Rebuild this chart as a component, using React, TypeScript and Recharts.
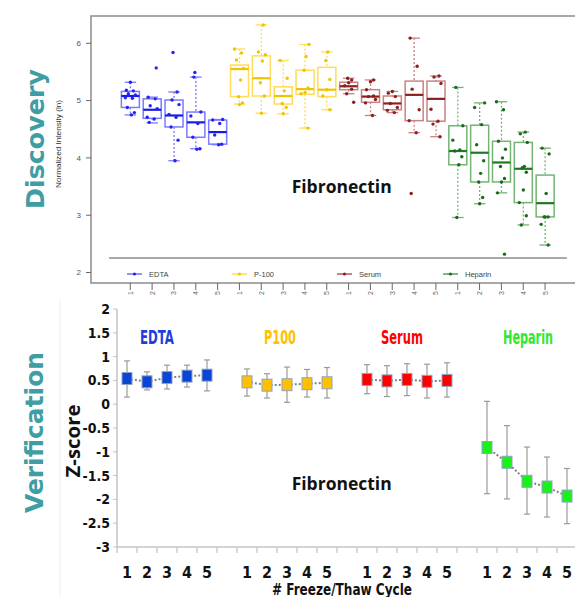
import React from 'react';
import { ComposedChart, Bar, XAxis, YAxis, ReferenceArea, ReferenceLine, Line, ErrorBar } from 'recharts';

// ---------- Discovery (top) data ----------
const topGroups = ['EDTA', 'P-100', 'Serum', 'Heparin'];
const cycles = ['1', '2', '3', '4', '5'];
const topYTicks = [2, 3, 4, 5, 6];

type Box = { lo: number; q1: number; med: number; q3: number; hi: number; pts: number[]; out: number[] };

const edtaBoxes: Box[] = [
  { lo: 4.75, q1: 4.88, med: 5.08, q3: 5.16, hi: 5.32, pts: [5.32, 5.18, 5.17, 5.12, 5.1, 5.05, 5.04, 4.88, 4.79, 4.75], out: [] },
  { lo: 4.61, q1: 4.69, med: 4.84, q3: 5.03, hi: 5.06, pts: [5.06, 5.03, 4.91, 4.86, 4.71, 4.68, 4.62], out: [5.57] },
  { lo: 3.95, q1: 4.54, med: 4.74, q3: 5.01, hi: 5.15, pts: [5.15, 5.01, 4.93, 4.76, 4.71, 4.54, 4.31, 3.95], out: [5.84] },
  { lo: 4.16, q1: 4.36, med: 4.62, q3: 4.8, hi: 5.41, pts: [5.41, 4.8, 4.73, 4.6, 4.36, 4.16, 4.15], out: [5.49] },
  { lo: 4.23, q1: 4.24, med: 4.45, q3: 4.66, hi: 4.67, pts: [4.67, 4.66, 4.6, 4.4, 4.24, 4.23], out: [] },
];
const p100Boxes: Box[] = [
  { lo: 4.94, q1: 5.07, med: 5.55, q3: 5.62, hi: 5.9, pts: [5.9, 5.83, 5.71, 5.56, 5.36, 5.07, 4.96, 4.93], out: [] },
  { lo: 4.78, q1: 5.08, med: 5.39, q3: 5.78, hi: 6.32, pts: [6.32, 5.85, 5.8, 5.69, 5.31, 5.08, 4.78], out: [] },
  { lo: 4.77, q1: 4.94, med: 5.08, q3: 5.24, hi: 5.7, pts: [5.7, 5.39, 5.17, 4.95, 4.88, 4.77], out: [] },
  { lo: 4.52, q1: 5.11, med: 5.2, q3: 5.53, hi: 5.98, pts: [5.98, 5.77, 5.53, 5.22, 5.14, 5.12, 4.52], out: [] },
  { lo: 4.84, q1: 5.07, med: 5.19, q3: 5.58, hi: 5.85, pts: [5.85, 5.7, 5.37, 5.19, 5.08, 4.84], out: [] },
];
const serumBoxes: Box[] = [
  { lo: 5.12, q1: 5.19, med: 5.25, q3: 5.32, hi: 5.39, pts: [5.39, 5.36, 5.31, 5.26, 5.2, 5.12], out: [4.97] },
  { lo: 4.74, q1: 4.97, med: 5.07, q3: 5.19, hi: 5.36, pts: [5.36, 5.33, 5.19, 5.08, 5.07, 5.02, 4.96, 4.74], out: [] },
  { lo: 4.79, q1: 4.84, med: 4.95, q3: 5.08, hi: 5.16, pts: [5.16, 5.13, 5.07, 4.95, 4.88, 4.83, 4.79], out: [] },
  { lo: 4.44, q1: 4.65, med: 5.1, q3: 5.34, hi: 6.09, pts: [6.09, 5.6, 5.2, 4.84, 4.65, 4.44], out: [3.38] },
  { lo: 4.37, q1: 4.64, med: 5.03, q3: 5.34, hi: 5.43, pts: [5.43, 5.41, 5.3, 4.85, 4.64, 4.59, 4.37], out: [] },
];
const heparinBoxes: Box[] = [
  { lo: 2.96, q1: 3.88, med: 4.12, q3: 4.56, hi: 5.23, pts: [5.23, 4.56, 4.31, 4.14, 4.12, 4.02, 3.88, 2.96], out: [] },
  { lo: 3.2, q1: 3.58, med: 4.09, q3: 4.57, hi: 4.96, pts: [4.96, 4.88, 4.58, 4.23, 3.95, 3.73, 3.58, 3.31, 3.2], out: [] },
  { lo: 3.39, q1: 3.58, med: 3.92, q3: 4.29, hi: 4.98, pts: [4.98, 4.84, 4.29, 4.15, 4.0, 3.85, 3.64, 3.58, 3.39], out: [2.32] },
  { lo: 2.83, q1: 3.22, med: 3.81, q3: 4.27, hi: 4.45, pts: [4.45, 4.42, 4.27, 3.85, 3.83, 3.75, 3.44, 3.22, 2.99, 2.83], out: [] },
  { lo: 2.48, q1: 2.97, med: 3.21, q3: 3.7, hi: 4.17, pts: [4.17, 4.07, 3.38, 2.97, 2.97, 2.97, 2.84, 2.48], out: [] },
];

// ---------- Verification (bottom) data ----------
const zGroups = ['EDTA', 'P100', 'Serum', 'Heparin'];
const edtaZ = [0.54, 0.47, 0.56, 0.59, 0.61];
const edtaZHi = [0.91, 0.68, 0.82, 0.82, 0.93];
const edtaZLo = [0.15, 0.3, 0.32, 0.36, 0.28];
const p100Z = [0.47, 0.4, 0.41, 0.43, 0.45];
const p100ZHi = [0.74, 0.64, 0.78, 0.73, 0.77];
const p100ZLo = [0.17, 0.13, 0.04, 0.15, 0.13];
const serumZ = [0.52, 0.49, 0.52, 0.48, 0.5];
const serumZHi = [0.83, 0.81, 0.85, 0.84, 0.87];
const serumZLo = [0.22, 0.16, 0.18, 0.13, 0.15];
const heparinZ = [-0.91, -1.22, -1.62, -1.74, -1.93];
const heparinZHi = [0.06, -0.45, -0.9, -1.11, -1.35];
const heparinZLo = [-1.88, -1.99, -2.31, -2.37, -2.51];
const zYTicks = [-3, -2.5, -2, -1.5, -1, -0.5, 0, 0.5, 1, 1.5, 2];

// ---------- styles ----------
const topColors = [
  { box: '#7b7bff', med: '#1a1ae8', pt: '#2424ee', leg: '#4b4bff' },
  { box: '#ffdc5a', med: '#f2c200', pt: '#f0c400', leg: '#ffd21f' },
  { box: '#c88484', med: '#8e1f1f', pt: '#8e1f1f', leg: '#a33030' },
  { box: '#74b474', med: '#1f7a1f', pt: '#1d6a1d', leg: '#2f8a2f' },
];
const zFill = ['#0b45d6', '#ffc000', '#ff0000', '#1cf01c'];
const zText = ['#1c3fdc', '#ffc000', '#ff0000', '#2eea2e'];
const NARROW = "'Liberation Sans Narrow','DejaVu Sans Condensed','Arial Narrow',sans-serif";
const jitter = [0, -4, 3, -2, 5, -5, 2, -3, 4, 1, -1, 3];

const topRows = [edtaBoxes, p100Boxes, serumBoxes, heparinBoxes].flatMap((arr, g) =>
  arr.map((b, c) => ({ x: g * cycles.length + c, g, c, ...b }))
);
const topXTicks = topRows.map((r) => r.x);

const zSeries = [
  [edtaZ, edtaZHi, edtaZLo],
  [p100Z, p100ZHi, p100ZLo],
  [serumZ, serumZHi, serumZLo],
  [heparinZ, heparinZHi, heparinZLo],
].map(([m, hi, lo], g) =>
  m.map((v, i) => ({ x: g * (cycles.length + 1) + i + 0.5, z: v, err: [v - lo[i], hi[i] - v] }))
);
const zSlots = zGroups.length * (cycles.length + 1);
const zBoundaryTicks = Array.from({ length: zSlots + 1 }, (_, i) => i);
const zLabelTicks = zSeries.flat().map((d) => d.x);
const zTicks = [...zBoundaryTicks, ...zLabelTicks].sort((a, b) => a - b);

const BoxShape = (props: any) => {
  const { x, y, width, height, payload } = props;
  if (!payload || x == null) return null;
  const top = Math.min(y, y + height);
  const bot = Math.max(y, y + height);
  const { lo, hi, q1, med, q3, pts, out, g } = payload;
  const py = (v: number) => top + ((hi - v) / (hi - lo)) * (bot - top);
  const cx = x + width / 2;
  const col = topColors[g];
  const cap = width * 0.32;
  const all: number[] = [...pts, ...out];
  return (
    <g>
      <line x1={cx} x2={cx} y1={py(hi)} y2={py(q3)} stroke={col.box} strokeWidth={1.3} strokeDasharray="2 2" />
      <line x1={cx} x2={cx} y1={py(q1)} y2={py(lo)} stroke={col.box} strokeWidth={1.3} strokeDasharray="2 2" />
      <line x1={cx - cap} x2={cx + cap} y1={py(hi)} y2={py(hi)} stroke={col.box} strokeWidth={1.3} />
      <line x1={cx - cap} x2={cx + cap} y1={py(lo)} y2={py(lo)} stroke={col.box} strokeWidth={1.3} />
      <rect x={x} y={py(q3)} width={width} height={py(q1) - py(q3)} fill="none" stroke={col.box} strokeWidth={1.5} />
      <line x1={x} x2={x + width} y1={py(med)} y2={py(med)} stroke={col.med} strokeWidth={2.2} />
      {all.map((v, k) => (
        <circle key={k} cx={cx + jitter[(k + payload.x) % jitter.length]} cy={py(v)} r={1.7} fill={col.pt} />
      ))}
    </g>
  );
};

const TopTick = (props: any) => {
  const { x, y, payload } = props;
  return (
    <text x={x} y={y} transform={`rotate(-90 ${x} ${y})`} textAnchor="end" dominantBaseline="central"
      fontSize={7} fill="#666" fontFamily="Liberation Sans, Arial, sans-serif">
      {cycles[payload.value % cycles.length]}
    </text>
  );
};

const ZTick = (props: any) => {
  const { x, y, payload } = props;
  const v = payload.value;
  if (Number.isInteger(v)) {
    return <line x1={x} x2={x} y1={y} y2={y + 6} stroke="#c4c4c4" strokeWidth={1.3} />;
  }
  const idx = Math.floor(v) % (cycles.length + 1);
  return (
    <text x={x} y={y + 31} textAnchor="middle" fontSize={16} fontWeight="bold" fill="#111" fontFamily={NARROW}>
      {cycles[idx]}
    </text>
  );
};

const squareDot = (fill: string) => (p: any) => (
  <rect key={`d${p.index}`} x={p.cx - 5} y={p.cy - 6} width={10} height={12} fill={fill} stroke="#8ea4c4" strokeWidth={1} />
);

const legendX = [127, 232, 337, 443];

export default function App() {
  return (
    <div style={{ position: 'absolute', left: 0, top: 0, width: 575, height: 597, overflow: 'hidden', background: '#fff' }}>
      {/* Discovery */}
      <div style={{ position: 'absolute', left: 0, top: 0 }}>
        <ComposedChart width={620} height={305} data={topRows} margin={{ top: 16, right: 10, left: 0, bottom: 0 }}>
          <XAxis type="number" dataKey="x" domain={[-1.8, 21.975]} allowDataOverflow ticks={topXTicks} interval={0}
            axisLine={false} tickLine={{ stroke: '#666' }} tickSize={7} tickMargin={1} height={22} tick={<TopTick />} />
          <YAxis type="number" domain={[1.817, 6.476]} allowDataOverflow ticks={topYTicks} width={91} axisLine={false}
            tickLine={{ stroke: '#666' }} tickSize={5} tickMargin={5}
            tick={{ fontSize: 8, fill: '#555', fontFamily: 'Liberation Sans, Arial, sans-serif' }} />
          <ReferenceArea x1={-1.8} x2={21.975} y1={1.817} y2={6.476} fill="none" stroke="#8c8c8c" strokeWidth={1.5} ifOverflow="visible" />
          <ReferenceLine segment={[{ x: -0.976, y: 2.253 }, { x: 20.0, y: 2.253 }]} stroke="#555" strokeWidth={1.2} />
          <Bar dataKey={(d: any) => [d.lo, d.hi]} barSize={18} shape={<BoxShape />} isAnimationActive={false} />
        </ComposedChart>
      </div>

      {/* Verification */}
      <div style={{ position: 'absolute', left: 0, top: 290 }}>
        <ComposedChart width={600} height={307} margin={{ top: 19, right: 3, left: 0, bottom: 0 }}>
          <XAxis type="number" dataKey="x" domain={[0, zSlots]} allowDataOverflow ticks={zTicks} interval={0} allowDecimals
            tickLine={false} tickSize={0} tickMargin={0} height={50}
            axisLine={{ stroke: '#c4c4c4', strokeWidth: 1.5 }} tick={<ZTick />} />
          <YAxis type="number" domain={[-3, 2]} allowDataOverflow ticks={zYTicks} interval={0} width={117}
            axisLine={{ stroke: '#c4c4c4', strokeWidth: 1.5 }} tickLine={{ stroke: '#c4c4c4' }} tickSize={4} tickMargin={3}
            tick={{ fontSize: 14, fontWeight: 'bold', fill: '#111', fontFamily: NARROW }} />
          {zSeries.map((d, g) => (
            <Line key={zGroups[g]} data={d} dataKey="z" stroke="#808080" strokeWidth={2} strokeDasharray="2 2"
              dot={squareDot(zFill[g])} activeDot={false} isAnimationActive={false} legendType="none">
              <ErrorBar dataKey="err" direction="y" width={3} stroke="#9a9a9a" strokeWidth={1.2} />
            </Line>
          ))}
        </ComposedChart>
      </div>

      {/* annotations */}
      <svg width={575} height={597} style={{ position: 'absolute', left: 0, top: 0, pointerEvents: 'none' }}>
        <line x1={60} x2={60} y1={300} y2={597} stroke="#eeeeee" strokeWidth={1} />
        <text x={35} y={139} transform="rotate(-90 35 139)" textAnchor="middle" dominantBaseline="central"
          fontFamily="'DejaVu Sans', sans-serif" fontWeight="bold" fontSize={25} fill="#3f9ea3"
          textLength={140} lengthAdjust="spacingAndGlyphs">Discovery</text>
        <text x={34} y={432.5} transform="rotate(-90 34 432.5)" textAnchor="middle" dominantBaseline="central"
          fontFamily="'DejaVu Sans', sans-serif" fontWeight="bold" fontSize={25} fill="#3f9ea3"
          textLength={161} lengthAdjust="spacingAndGlyphs">Verification</text>
        <text x={58} y={144} transform="rotate(-90 58 144)" textAnchor="middle" dominantBaseline="central"
          fontFamily="'Liberation Sans', Arial, sans-serif" fontSize={7} fill="#333"
          textLength={88} lengthAdjust="spacingAndGlyphs">Normalized Intensity (ln)</text>
        <text x={73} y={441} transform="rotate(-90 73 441)" textAnchor="middle" dominantBaseline="central"
          fontFamily="'Open Sans', sans-serif" fontWeight="bold" fontSize={19} fill="#111"
          textLength={73} lengthAdjust="spacingAndGlyphs">Z-score</text>
        <text x={291.7} y={193} fontFamily="'Open Sans', sans-serif" fontWeight="bold" fontSize={17} fill="#111"
          textLength={100} lengthAdjust="spacingAndGlyphs">Fibronectin</text>
        <text x={291.7} y={490} fontFamily="'Open Sans', sans-serif" fontWeight="bold" fontSize={17} fill="#111"
          textLength={100} lengthAdjust="spacingAndGlyphs">Fibronectin</text>
        {[[140, 34], [264, 32], [381, 42], [503, 50]].map(([lx, lw], g) => (
          <text key={zGroups[g]} x={lx} y={344} fontFamily={NARROW} fontWeight="bold" fontSize={19} fill={zText[g]}
            textLength={lw} lengthAdjust="spacingAndGlyphs">{zGroups[g]}</text>
        ))}
        <text x={272} y={595} fontFamily={NARROW} fontWeight="bold" fontSize={15} fill="#111"
          textLength={140} lengthAdjust="spacingAndGlyphs"># Freeze/Thaw Cycle</text>
        {topGroups.map((name, g) => (
          <g key={name}>
            <line x1={legendX[g]} x2={legendX[g] + 15} y1={274} y2={274} stroke={topColors[g].leg} strokeWidth={1.2} />
            <circle cx={legendX[g] + 7.5} cy={274} r={1.6} fill={topColors[g].pt} />
            <text x={legendX[g] + 22} y={274} dominantBaseline="central" fontSize={7.5} fill="#444"
              fontFamily="'Liberation Sans', Arial, sans-serif">{name}</text>
          </g>
        ))}
      </svg>
    </div>
  );
}
